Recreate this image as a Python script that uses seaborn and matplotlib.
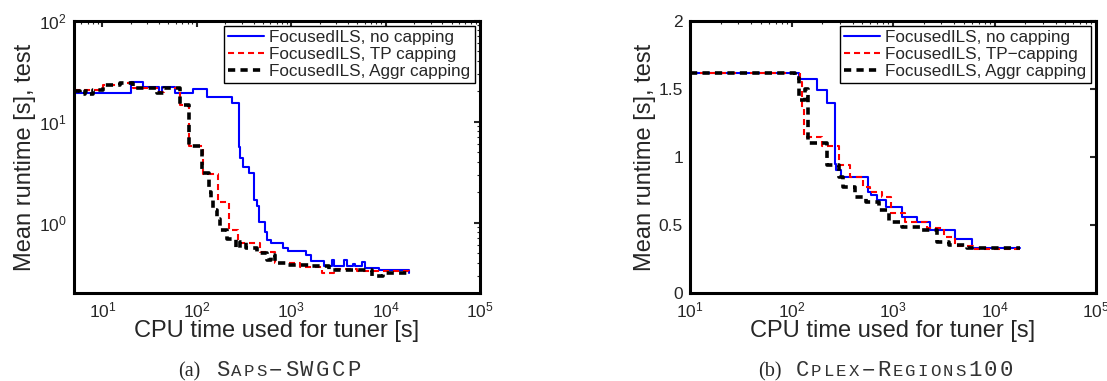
import numpy as np
import pandas as pd
import matplotlib
matplotlib.use("Agg")
import matplotlib.pyplot as plt
import seaborn as sns
from matplotlib.ticker import LogLocator, FixedLocator, FixedFormatter, NullFormatter

# (a) SAPS-SWGCP, values (step curves)
a_none_x = [5, 20.3, 27, 40, 43, 59, 92, 128, 237, 278, 290, 310, 355, 403, 431, 458, 525,
            560, 615, 810, 915, 1420, 1640, 2210, 2700, 2870, 3600, 3900, 4500, 4700, 5600,
            6000, 8600, 17900]
a_none_y = [19.2, 24.9, 22.2, 19.5, 22.2, 19.4, 21.1, 17.7, 15.2, 5.6, 4.4, 3.6, 3.1, 1.68,
            1.46, 1.02, 0.80, 0.67, 0.63, 0.56, 0.52, 0.48, 0.42, 0.37, 0.43, 0.37, 0.43, 0.37,
            0.39, 0.37, 0.41, 0.36, 0.34, 0.32]
a_tp_x = [5, 10.2, 15.3, 21.2, 38, 45, 66, 83, 117, 168, 218, 275, 470, 670, 1230, 2100,
          2850, 5000, 17900]
a_tp_y = [20.6, 23.0, 24.0, 21.4, 19.5, 21.4, 14.8, 5.8, 3.05, 1.61, 0.85, 0.625, 0.516,
          0.40, 0.367, 0.32, 0.345, 0.33, 0.31]
a_aggr_x = [5, 5.8, 6.5, 7.2, 8, 10.2, 15.3, 21.2, 38, 45, 66, 83, 113, 135, 141, 147, 163,
            177, 209, 263, 290, 330, 434, 560, 610, 680, 890, 1600, 2500, 7200, 9400, 17900]
a_aggr_y = [20, 18.8, 20, 18.8, 20.5, 23, 24, 21.4, 19.4, 21.4, 14.8, 5.7, 3.1, 2.0, 1.7,
            1.34, 1.08, 0.85, 0.69, 0.56, 0.64, 0.56, 0.50, 0.43, 0.48, 0.40, 0.38, 0.37,
            0.34, 0.30, 0.32, 0.31]

# (b) CPLEX-REGIONS100
b_none_x = [10, 118, 180, 224, 266, 274, 310, 565, 612, 700, 850, 1217, 1740, 2340, 4110,
            6000, 17800]
b_none_y = [1.614, 1.572, 1.49, 1.394, 0.95, 0.905, 0.855, 0.745, 0.72, 0.685, 0.635,
            0.562, 0.525, 0.464, 0.396, 0.33, 0.33]
b_tp_x = [10, 121, 127, 133, 198, 296, 376, 502, 590, 780, 960, 1320, 2140, 3160, 4100,
          6200, 17800]
b_tp_y = [1.614, 1.55, 1.36, 1.15, 1.08, 0.94, 0.855, 0.78, 0.745, 0.71, 0.587, 0.525,
          0.477, 0.41, 0.35, 0.325, 0.325]
b_aggr_x = [10, 108, 118, 137, 146, 222, 296, 320, 426, 540, 720, 910, 1220, 1860, 2700,
            3550, 5380, 17800]
b_aggr_y = [1.614, 1.58, 1.42, 1.50, 1.105, 0.94, 0.855, 0.78, 0.71, 0.672, 0.611, 0.525,
            0.489, 0.464, 0.379, 0.355, 0.33, 0.33]

labels_a = ["FocusedILS, no capping", "FocusedILS, TP capping", "FocusedILS, Aggr capping"]
labels_b = ["FocusedILS, no capping", "FocusedILS, TP\u2212capping", "FocusedILS, Aggr capping"]

sns.set_style("white")
plt.rcParams['font.family'] = ['Liberation Sans', 'DejaVu Sans']
plt.rcParams['mathtext.fontset'] = 'custom'
plt.rcParams['mathtext.rm'] = 'Liberation Sans'
plt.rcParams['mathtext.it'] = 'Liberation Sans:italic'

W, H = 1107, 381
fig = plt.figure(figsize=(W / 100, H / 100), dpi=100)
ax_a = fig.add_axes([74 / W, (H - 293.3) / H, 406 / W, 272.6 / H])
ax_b = fig.add_axes([690 / W, (H - 293.3) / H, 406 / W, 272.6 / H])

styles = [
    dict(color=(0, 0, 1), lw=1.5, linestyle='-'),
    dict(color=(1, 0, 0), lw=1.5, linestyle=(0, (2.9, 1.9))),
    dict(color='black', lw=2.6, linestyle=(0, (2.0, 1.45))),
]


def draw(ax, series, labels):
    for (xs, ys), lab, st in zip(series, labels, styles):
        df = pd.DataFrame({'t': xs, 'rt': ys})
        sns.lineplot(data=df, x='t', y='rt', ax=ax, estimator=None, sort=False,
                     drawstyle='steps-post', label=lab, **st)
    ax.set_xscale('log')
    ax.xaxis.set_major_locator(LogLocator(base=10, numticks=10))
    ax.xaxis.set_minor_locator(LogLocator(base=10, subs=np.arange(2, 10), numticks=20))
    ax.xaxis.set_minor_formatter(NullFormatter())
    ax.set_xlabel("CPU time used for tuner [s]", fontsize=17, labelpad=0)
    ax.set_ylabel("Mean runtime [s], test", fontsize=17, labelpad=2)
    ax.tick_params(which='both', direction='in', top=True, right=True)
    ax.tick_params(which='major', length=4, width=1.5, labelsize=12.5, pad=5)
    ax.tick_params(which='minor', length=2, width=0.8)
    for sp in ax.spines.values():
        sp.set_linewidth(2.2)
        sp.set_color('black')
    leg = ax.legend(loc='upper right', fontsize=12.3, frameon=True, fancybox=False,
                    edgecolor='black', framealpha=1, borderpad=0.25, labelspacing=0.1,
                    handlelength=2.1, handletextpad=0.3, borderaxespad=0.3)
    leg.get_frame().set_linewidth(1.0)


draw(ax_a, [(a_none_x, a_none_y), (a_tp_x, a_tp_y), (a_aggr_x, a_aggr_y)], labels_a)
ax_a.set_yscale('log')
ax_a.set_xlim(5, 1e5)
ax_a.set_ylim(0.2, 100)
ax_a.yaxis.set_minor_formatter(NullFormatter())

draw(ax_b, [(b_none_x, b_none_y), (b_tp_x, b_tp_y), (b_aggr_x, b_aggr_y)], labels_b)
ax_b.set_xlim(10, 1e5)
ax_b.set_ylim(0, 2)
yt = [0, 0.5, 1, 1.5, 2]
ax_b.yaxis.set_major_locator(FixedLocator(yt))
ax_b.yaxis.set_major_formatter(FixedFormatter(["0", "0.5", "1", "1.5", "2"]))


def caption(ax, label, word):
    # small caps typewriter caption under a panel
    big, small = 15.6, 12.6
    adv = [small if c.islower() else big for c in word]
    total = 36 + sum(adv)
    bb = ax.get_position()
    cx = (bb.x0 + bb.x1) / 2 * W - 7
    x = cx - total / 2
    yb = 4.5 / H
    fig.text(x / W, yb, label, fontsize=14.5, family=['Liberation Serif', 'DejaVu Serif'],
             ha='left', va='baseline')
    x += 36
    for c, a in zip(word, adv):
        ch = '\u2212' if c == '-' else c.upper()
        fs = 12.5 if c.islower() else 16
        fig.text((x + a / 2) / W, yb, ch, fontsize=fs, color='#333333',
                 family=['Liberation Mono', 'DejaVu Sans Mono'], ha='center', va='baseline')
        x += a


caption(ax_a, "(a)", "Saps-SWGCP")
caption(ax_b, "(b)", "Cplex-Regions100")

fig.savefig("out.png", dpi=100)
